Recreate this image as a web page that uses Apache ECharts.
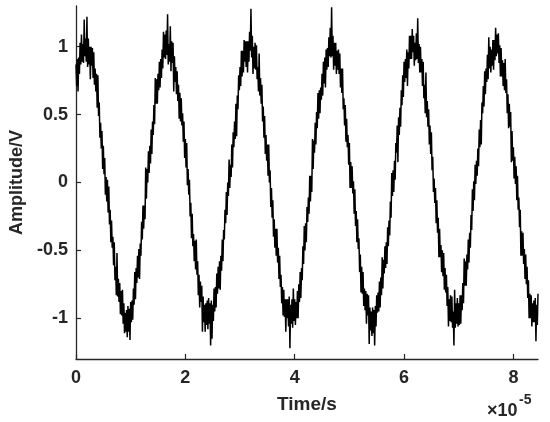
<!DOCTYPE html>
<html>
<head>
<meta charset="utf-8">
<script src="https://cdn.jsdelivr.net/npm/echarts@6/dist/echarts.min.js"></script>
<style>html,body{margin:0;padding:0;background:#fff}#c{width:550px;height:422px}</style>
</head>
<body>
<div id="c"></div>
<script>
// Sample interval of the recording (units of 1e-5 s)
const sampleInterval = 0.0125;
const xTickValues = [0, 2, 4, 6, 8];
const yTickValues = [-1, -0.5, 0, 0.5, 1];
const xTickLabels = ['0', '2', '4', '6', '8'];
const yTickLabels = ['-1', '-0.5', '0', '0.5', '1'];
const xAxisTitle = 'Time/s';
const yAxisTitle = 'Amplitude/V';
const xExponentBase = '×10';
const xExponent = '-5';

// Amplitude samples (V)
const amplitude = [
  .87,.71,.91,.67,.92,.80,1.03,.87,1.09,.89,1.02,.88,1.20,.93,
  1.06,.89,1.22,.85,1.06,.87,1.00,.76,1.00,.86,
  .99,.77,.96,.72,.84,.67,.80,.55,.79,.49,
  .59,.33,.44,.25,.38,.10,.27,.06,.18,-.09,
  .04,-.14,.02,-.22,-.03,-.31,-.20,-.44,-.28,-.48,
  -.40,-.61,-.44,-.72,-.62,-.83,-.52,-.84,-.71,-.88,
  -.74,-.97,-.80,-.98,-.79,-1.04,-.89,-1.11,-.96,-1.10,
  -.94,-1.14,-.91,-1.10,-.93,-1.16,-.88,-1.03,-.87,-1.01,
  -.78,-.90,-.66,-.86,-.63,-.74,-.54,-.70,-.49,-.71,
  -.45,-.54,-.29,-.42,-.17,-.34,-.17,-.27,.11,-.12,
  .10,.00,.23,.07,.27,.14,.39,.21,.45,.35,
  .57,.43,.77,.58,.76,.58,.80,.68,.89,.70,
  .91,.77,.98,.84,1.11,.92,1.09,.91,1.12,.94,
  1.24,.87,1.02,.89,1.15,.82,1.04,.88,1.03,.67,
  .93,.74,.85,.65,.82,.60,.72,.47,.66,.45,
  .62,.42,.51,.30,.45,.18,.32,.11,.29,-.02,
  .10,-.09,.02,-.25,-.15,-.41,-.23,-.47,-.38,-.58,
  -.43,-.64,-.42,-.68,-.58,-.83,-.68,-.92,-.73,-.88,
  -.76,-1.10,-.84,-1.03,-.90,-1.10,-.89,-1.05,-.87,-1.08,
  -.85,-1.04,-.89,-1.20,-.87,-1.15,-.90,-1.02,-.78,-.95,
  -.77,-.92,-.67,-.82,-.62,-.78,-.58,-.79,-.54,-.65,
  -.42,-.58,-.35,-.42,-.20,-.30,-.07,-.24,.00,-.10,
  .17,-.04,.13,.04,.28,.11,.37,.26,.45,.32,
  .58,.34,.64,.54,.79,.68,.85,.71,.97,.78,
  .97,.81,1.05,.89,1.04,.85,1.04,.81,1.04,.89,
  1.11,.97,1.28,.92,1.08,.80,1.00,.84,1.03,.83,
  1.01,.76,.85,.67,.95,.64,.77,.58,.72,.45,
  .56,.33,.49,.21,.35,.16,.28,.05,.28,.00,
  .09,-.18,-.04,-.26,-.13,-.40,-.27,-.48,-.34,-.54,
  -.34,-.59,-.48,-.71,-.54,-.77,-.68,-.89,-.77,-.98,
  -.79,-.99,-.86,-1.10,-.86,-1.00,-.86,-1.06,-.84,-1.22,
  -.90,-1.04,-.86,-1.07,-.78,-1.02,-.86,-1.05,-.88,-1.00,
  -.80,-1.00,-.75,-.88,-.66,-.85,-.63,-.72,-.47,-.60,
  -.32,-.50,-.30,-.44,-.18,-.29,-.11,-.23,.05,-.14,
  .05,-.07,.32,.10,.31,.22,.44,.28,.52,.40,
  .66,.47,.68,.51,.70,.61,.80,.64,.89,.73,
  .92,.70,.98,.83,.99,.85,1.07,.93,1.14,.92,
  1.29,.93,1.08,.83,1.03,.86,1.03,.80,.97,.83,
  .98,.80,.95,.70,.84,.66,.84,.54,.62,.42,
  .57,.30,.47,.26,.35,.13,.29,-.04,.15,-.04,
  .12,-.08,.01,-.23,-.05,-.32,-.21,-.44,-.27,-.49,
  -.41,-.66,-.53,-.81,-.62,-.82,-.66,-.91,-.78,-.94,
  -.80,-1.04,-.82,-.98,-.83,-1.19,-.92,-1.09,-.95,-1.13,
  -.92,-1.11,-.94,-1.20,-.91,-1.06,-.83,-.96,-.81,-.95,
  -.73,-.92,-.70,-.83,-.55,-.78,-.57,-.67,-.47,-.63,
  -.44,-.60,-.33,-.47,-.28,-.39,-.14,-.26,.07,-.10,
  .09,-.07,.16,.02,.29,.22,.42,.15,.48,.35,
  .55,.41,.68,.57,.79,.63,.89,.74,.91,.77,
  .98,.71,.96,.84,1.08,.91,1.08,.91,1.13,.96,
  1.08,.86,1.03,.90,1.10,.91,1.21,.88,1.02,.81,
  1.00,.81,.91,.71,.89,.62,.72,.51,.81,.48,
  .60,.41,.54,.28,.42,.21,.37,.09,.19,-.07,
  .03,-.15,-.04,-.30,-.13,-.37,-.26,-.55,-.34,-.55,
  -.46,-.66,-.50,-.69,-.52,-.79,-.63,-.81,-.68,-.91,
  -.77,-1.06,-.86,-1.02,-.83,-1.03,-.84,-1.07,-.95,-1.20,
  -.79,-1.07,-.89,-1.04,-.85,-1.06,-.89,-1.05,-.83,-1.04,
  -.83,-.94,-.74,-.89,-.56,-.76,-.58,-.76,-.53,-.64,
  -.42,-.59,-.37,-.48,-.24,-.35,-.05,-.21,.01,-.13,
  .13,-.01,.16,.05,.25,.12,.39,.26,.46,.28,
  .59,.51,.71,.56,.82,.65,.84,.74,.94,.76,
  1.07,.84,1.00,.81,.98,.86,1.05,.83,1.05,.90,
  1.14,.93,1.09,.95,1.10,.88,1.01,.78,.99,.78,
  .90,.71,.88,.68,.91,.66,.76,.51,.65,.40,
  .58,.41,.52,.15,.38,.16,.26,.03,.19,-.01,
  .12,-.13,.05,-.20,-.11,-.33,-.20,-.54,-.36,-.54,
  -.37,-.60,-.49,-.71,-.53,-.75,-.62,-.85,-.72,-1.00,
  -.82,-1.00,-.83,-1.06,-.89,-1.03,-.87,-1.03,-.85,-1.17,
  -.90,-1.05,-.82
];

const seriesData = amplitude.map((v, i) => [i * sampleInterval, v]);

const FONT = '"Liberation Sans", Arial, sans-serif';
const INK = '#262626';

const chart = echarts.init(document.getElementById('c'), null, {renderer: 'canvas'});
chart.setOption({
  animation: false,
  backgroundColor: '#fff',
  grid: {left: 74, right: 12, top: 6, bottom: 63},
  xAxis: {
    type: 'value', min: 0, max: 8.45,
    name: xAxisTitle, nameLocation: 'middle', nameGap: 36,
    nameTextStyle: {fontFamily: FONT, fontWeight: 'bold', fontSize: 19, color: INK},
    axisLine: {show: true, onZero: false, lineStyle: {color: INK, width: 1.3}},
    axisTick: {show: true, inside: true, length: 5, customValues: xTickValues, lineStyle: {color: INK, width: 1.2}},
    axisLabel: {show: true, customValues: xTickValues, margin: 10,
      formatter: v => xTickLabels[xTickValues.indexOf(v)],
      fontFamily: FONT, fontWeight: 'bold', fontSize: 18, color: INK},
    splitLine: {show: false}
  },
  yAxis: {
    type: 'value', min: -1.3, max: 1.3,
    name: yAxisTitle, nameLocation: 'middle', nameGap: 50,
    nameTextStyle: {fontFamily: FONT, fontWeight: 'bold', fontSize: 18, color: INK},
    axisLine: {show: true, onZero: false, lineStyle: {color: INK, width: 1.3}},
    axisTick: {show: true, inside: true, length: 5, customValues: yTickValues, lineStyle: {color: INK, width: 1.2}},
    axisLabel: {show: true, customValues: yTickValues, margin: 8,
      formatter: v => yTickLabels[yTickValues.indexOf(v)],
      fontFamily: FONT, fontWeight: 'bold', fontSize: 18, color: INK},
    splitLine: {show: false}
  },
  graphic: [
    {type: 'text', left: 487, top: 402, style: {text: xExponentBase, fontFamily: FONT, fontWeight: 'bold', fontSize: 18, fill: INK}},
    {type: 'text', left: 519, top: 393, style: {text: xExponent, fontFamily: FONT, fontWeight: 'bold', fontSize: 14, fill: INK}}
  ],
  series: [{
    type: 'line', data: seriesData, showSymbol: false, symbol: 'none',
    sampling: null, lineStyle: {color: '#000', width: 1.5}, clip: true
  }]
});
</script>
</body>
</html>
